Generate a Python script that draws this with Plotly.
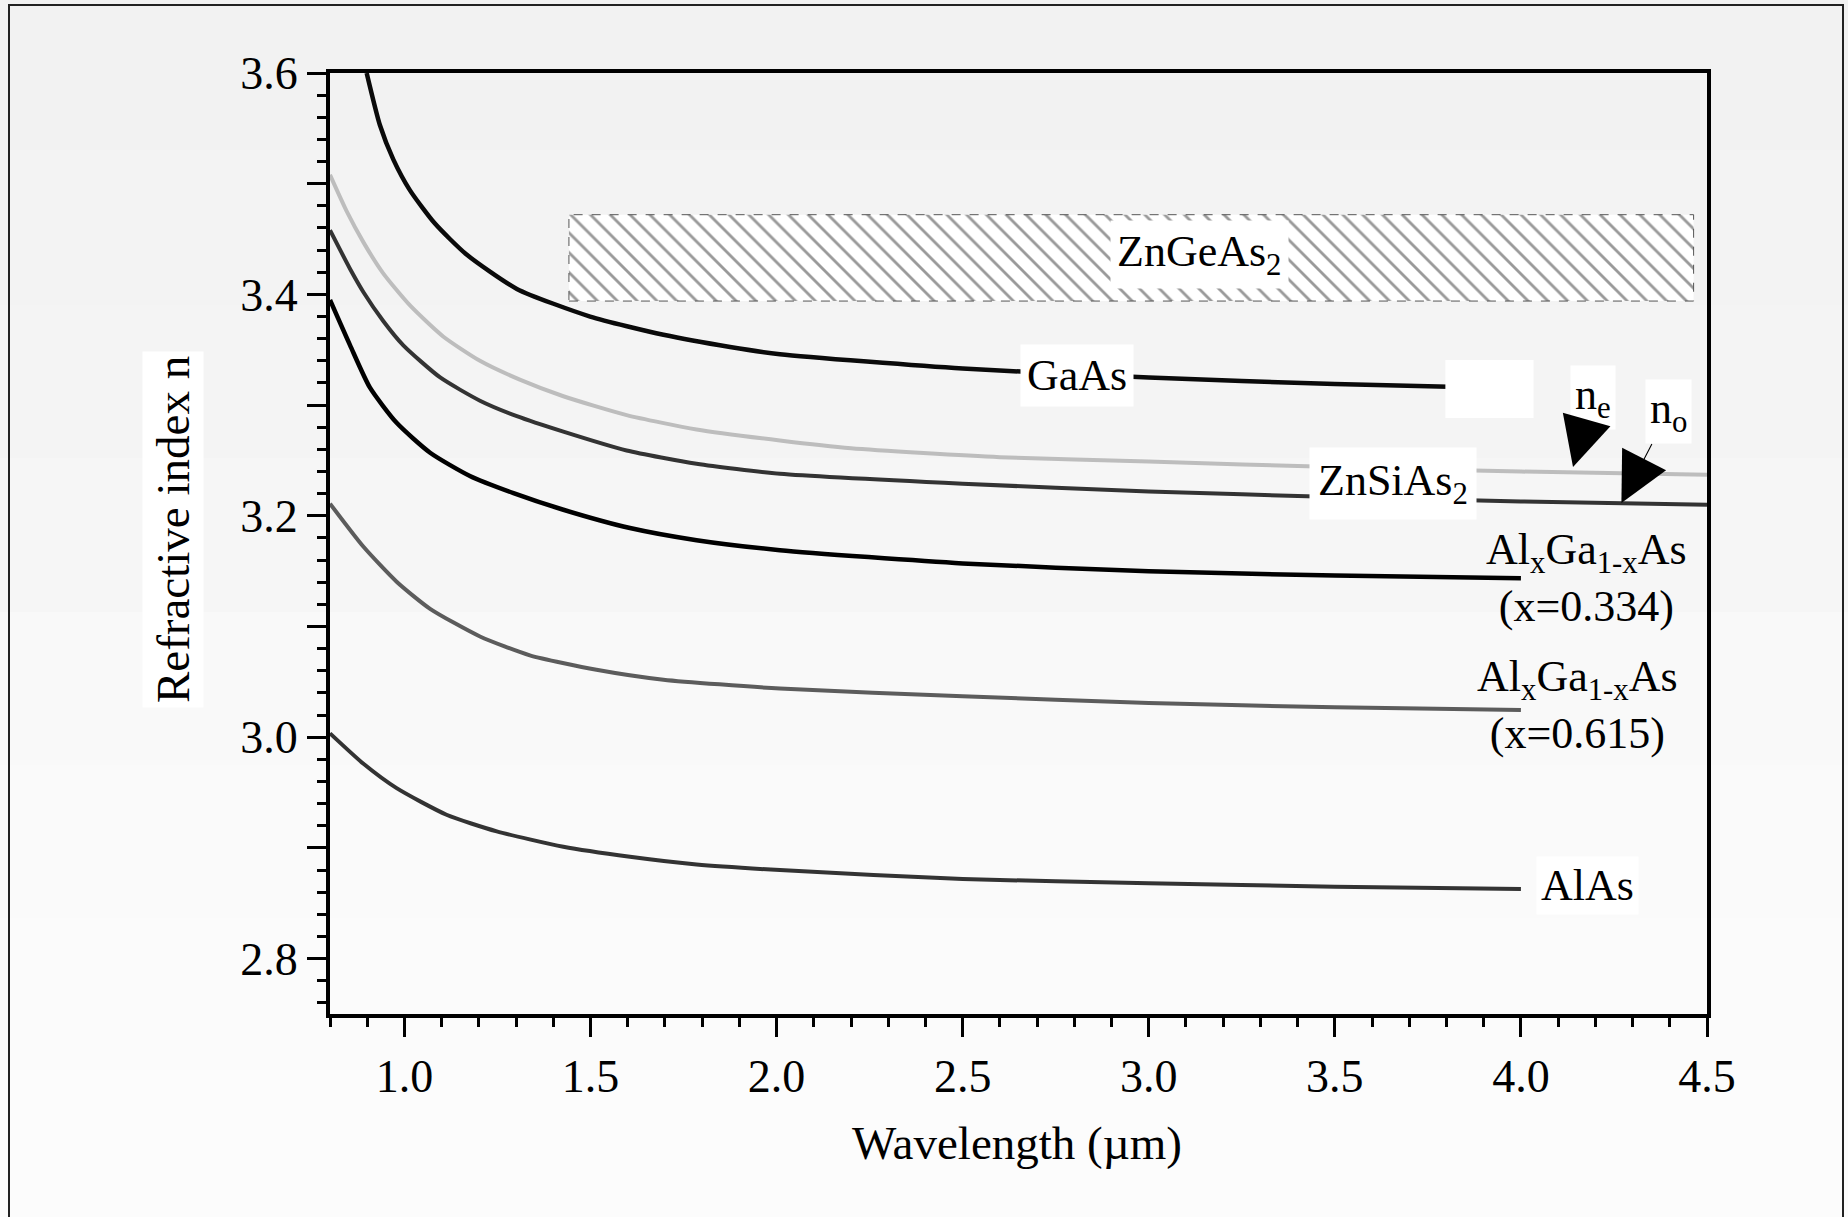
import plotly.graph_objects as go

# ---------------- data ----------------
GAAS_WL = [0.8985, 0.934, 0.970, 1.015, 1.082, 1.167, 1.302, 1.499, 1.696, 1.875, 2.009, 2.5, 3.0, 3.5, 4.0]
GAAS_N = [3.600, 3.553, 3.522, 3.494, 3.464, 3.436, 3.405, 3.380, 3.3635, 3.3525, 3.346, 3.333, 3.325, 3.319, 3.315]

ZNSIAS2_NE_WL = [0.8, 0.845, 0.890, 0.943, 1.015, 1.104, 1.203, 1.310, 1.427, 1.597, 1.785, 2.009, 2.2, 2.6, 3.0, 3.5, 4.0, 4.5]
ZNSIAS2_NE_N = [3.508, 3.475, 3.447, 3.419, 3.390, 3.362, 3.340, 3.323, 3.308, 3.291, 3.278, 3.268, 3.261, 3.253, 3.249, 3.244, 3.240, 3.237]

ZNSIAS2_NO_WL = [0.8, 0.854, 0.890, 0.943, 0.997, 1.096, 1.203, 1.302, 1.427, 1.597, 1.785, 2.009, 2.5, 3.0, 3.5, 4.0, 4.5]
ZNSIAS2_NO_N = [3.458, 3.423, 3.402, 3.376, 3.354, 3.325, 3.304, 3.290, 3.276, 3.259, 3.247, 3.238, 3.229, 3.222, 3.217, 3.213, 3.210]

ALGAAS_334_WL = [0.8, 0.854, 0.907, 0.979, 1.069, 1.176, 1.293, 1.427, 1.606, 1.785, 2.009, 2.5, 3.0, 3.5, 4.0]
ALGAAS_334_N = [3.395, 3.354, 3.316, 3.284, 3.257, 3.236, 3.2205, 3.2055, 3.189, 3.178, 3.169, 3.157, 3.150, 3.146, 3.1435]

ALGAAS_615_WL = [0.8, 0.890, 0.979, 1.069, 1.203, 1.337, 1.516, 1.696, 2.009, 2.5, 3.0, 3.5, 4.0]
ALGAAS_615_N = [3.211, 3.172, 3.1405, 3.116, 3.091, 3.074, 3.061, 3.052, 3.044, 3.037, 3.031, 3.027, 3.0246]

ALAS_WL = [0.8, 0.890, 0.979, 1.113, 1.248, 1.427, 1.606, 1.785, 2.009, 2.5, 3.0, 3.5, 4.0]
ALAS_N = [3.0035, 2.976, 2.954, 2.930, 2.915, 2.901, 2.892, 2.885, 2.880, 2.872, 2.868, 2.865, 2.863]

ZNGEAS2_WL = [1.442, 4.464]
ZNGEAS2_N = [3.394, 3.472]

# ---------------- layout geometry ----------------
W, H = 1848, 1217
PL, PR, PT, PB = 330, 1707, 73, 1014
FONT = "Liberation Serif"


def px_x(px):
    return (px - PL) / (PR - PL)


def px_y(py):
    return (PB - py) / (PB - PT)


fig = go.Figure()

# hatched ZnGeAs2 band
fig.add_trace(go.Scatter(
    x=[ZNGEAS2_WL[0], ZNGEAS2_WL[1], ZNGEAS2_WL[1], ZNGEAS2_WL[0], ZNGEAS2_WL[0]],
    y=[ZNGEAS2_N[0], ZNGEAS2_N[0], ZNGEAS2_N[1], ZNGEAS2_N[1], ZNGEAS2_N[0]],
    mode="lines", fill="toself",
    fillcolor="white",
    fillpattern=dict(shape="\\", fgcolor="#333333", bgcolor="white", size=14, solidity=0.2),
    line=dict(color="#555555", width=1, dash="dash"),
    hoverinfo="skip", showlegend=False,
))

curves = [
    (ZNSIAS2_NE_WL, ZNSIAS2_NE_N, "#bdbdbd", 4),
    (ZNSIAS2_NO_WL, ZNSIAS2_NO_N, "#333333", 4),
    (GAAS_WL, GAAS_N, "#0a0a0a", 4.5),
    (ALGAAS_334_WL, ALGAAS_334_N, "#000000", 4.5),
    (ALGAAS_615_WL, ALGAAS_615_N, "#5c5c5c", 4),
    (ALAS_WL, ALAS_N, "#333333", 4),
]
for xs, ys, col, w in curves:
    fig.add_trace(go.Scatter(
        x=xs, y=ys, mode="lines",
        line=dict(color=col, width=w, shape="spline", smoothing=0.6),
        hoverinfo="skip", showlegend=False,
    ))

# background bands (slight vertical gradient)
bands = [(0, 150, "#f2f2f2"), (150, 305, "#f3f3f3"), (305, 458, "#f4f4f4"), (458, 612, "#f6f6f6"),
         (612, 765, "#f9f9f9"), (765, 918, "#fafafa"), (918, 1070, "#fbfbfb"), (1070, 1217, "#fcfcfc")]
shapes = []
for y0, y1, c in bands:
    shapes.append(dict(type="rect", xref="paper", yref="paper",
                       x0=px_x(0), x1=px_x(W), y0=px_y(y1), y1=px_y(y0),
                       fillcolor=c, line=dict(width=0), layer="below"))
# outer frame
shapes.append(dict(type="rect", xref="paper", yref="paper",
                   x0=px_x(9), x1=px_x(1843), y0=px_y(1240), y1=px_y(5),
                   fillcolor="rgba(0,0,0,0)", line=dict(color="#222222", width=2), layer="above"))
# white blank box at the end of the GaAs curve
shapes.append(dict(type="rect", xref="x", yref="y",
                   x0=3.797, x1=4.034, y0=3.2883, y1=3.3407,
                   fillcolor="white", line=dict(width=0), layer="above"))

LBL = 44
annotations = [
    dict(x=2.806, y=3.3265, text="GaAs", bgcolor="white", borderpad=6),
    dict(x=3.137, y=3.436, text="ZnGeAs<sub>2</sub>", bgcolor="white", borderpad=6),
    dict(x=3.6576, y=3.229, text="ZnSiAs<sub>2</sub>", bgcolor="white", borderpad=8),
    dict(x=4.177, y=3.144, text="Al<sub>x</sub>Ga<sub>1-x</sub>As<br>(x=0.334)", align="center"),
    dict(x=4.152, y=3.029, text="Al<sub>x</sub>Ga<sub>1-x</sub>As<br>(x=0.615)", align="center"),
    dict(x=4.180, y=2.866, text="AlAs", bgcolor="white", borderpad=4),
]
for a in annotations:
    a.update(xref="x", yref="y", showarrow=False, xanchor="center", yanchor="middle",
             font=dict(family=FONT, size=LBL, color="black"))

# arrows for n_e and n_o
annotations.append(dict(x=4.140, y=3.244, xref="x", yref="y", text="n<sub>e</sub>",
                        showarrow=True, ax=20, ay=-70, arrowhead=2, arrowsize=9, arrowwidth=1.1,
                        arrowcolor="black", bgcolor="white", borderpad=4,
                        font=dict(family=FONT, size=LBL, color="black")))
annotations.append(dict(x=4.270, y=3.2116, xref="x", yref="y", text="n<sub>o</sub>",
                        showarrow=True, ax=47, ay=-91, arrowhead=2, arrowsize=9, arrowwidth=1.1,
                        arrowcolor="black", bgcolor="white", borderpad=4,
                        font=dict(family=FONT, size=LBL, color="black")))

# axis titles
annotations.append(dict(xref="paper", yref="paper", x=px_x(173), y=px_y(530), text="Refractive index n",
                        textangle=-90, showarrow=False, bgcolor="white", borderpad=4,
                        xanchor="center", yanchor="middle",
                        font=dict(family=FONT, size=47, color="black")))
annotations.append(dict(xref="paper", yref="paper", x=px_x(1017), y=px_y(1143), text="Wavelength (µm)",
                        showarrow=False, xanchor="center", yanchor="middle",
                        font=dict(family=FONT, size=47, color="black")))

fig.update_layout(
    width=W, height=H,
    margin=dict(l=PL, r=W - PR, t=PT, b=H - PB, pad=0),
    paper_bgcolor="#f3f3f3",
    plot_bgcolor="rgba(0,0,0,0)",
    font=dict(family=FONT, size=46, color="black"),
    shapes=shapes,
    annotations=annotations,
    showlegend=False,
)

fig.update_xaxes(
    range=[0.8, 4.5], showgrid=False, zeroline=False,
    showline=True, linewidth=4, linecolor="black", mirror=True,
    ticks="outside", ticklen=19, tickwidth=3, tickcolor="black",
    tick0=1.0, dtick=0.5, tickformat=".1f",
    tickfont=dict(family=FONT, size=46, color="black"),
    minor=dict(dtick=0.1, tick0=0.8, ticks="outside", ticklen=9, tickwidth=3, tickcolor="black", showgrid=False),
)
fig.update_yaxes(
    range=[2.75, 3.6], showgrid=False, zeroline=False,
    showline=True, linewidth=4, linecolor="black", mirror=True,
    ticks="outside", ticklen=19, tickwidth=3, tickcolor="black",
    tick0=2.8, dtick=0.1, ticklabelstep=2, tickformat=".1f",
    tickfont=dict(family=FONT, size=46, color="black"),
    minor=dict(dtick=0.02, tick0=2.8, ticks="outside", ticklen=9, tickwidth=3, tickcolor="black", showgrid=False),
)

fig.write_html("out.html")
